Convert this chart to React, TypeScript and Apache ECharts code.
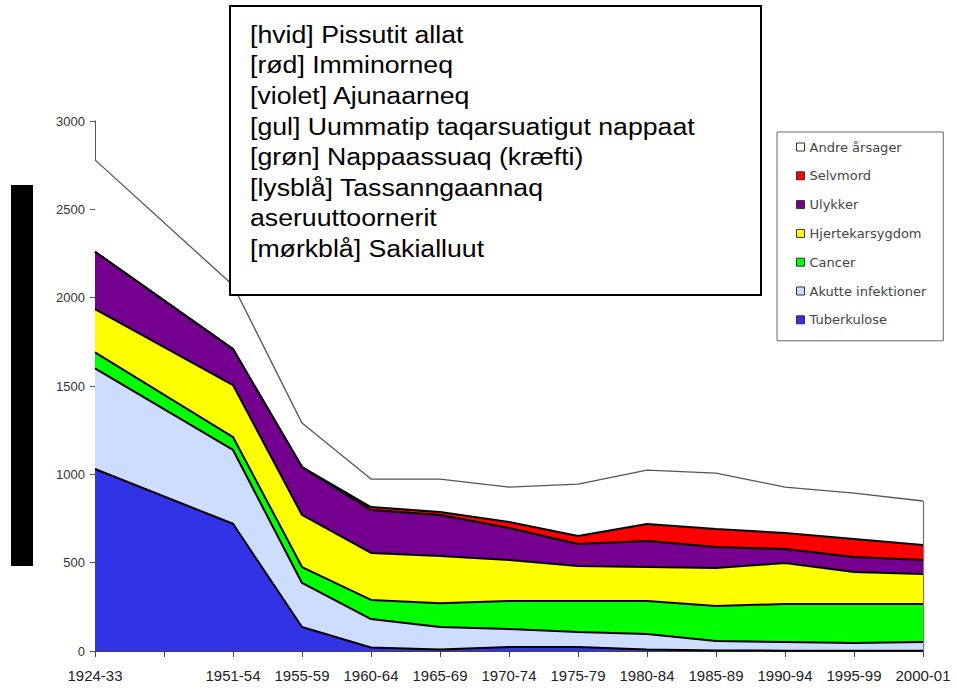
import React, { useEffect, useRef } from "react";
import * as echarts from "echarts";

// ---- data ----
const slotLabels = [
  "1924-33", "", "1951-54", "1955-59", "1960-64", "1965-69", "1970-74",
  "1975-79", "1980-84", "1985-89", "1990-94", "1995-99", "2000-01",
];
const periods = slotLabels.filter((l) => l !== "");

const tuberkulose = [1030, 720, 136, 20, 8, 22, 22, 8, 3, 2, 1, 1];
const akutteInfektioner = [570, 418, 249, 161, 128, 103, 86, 88, 54, 49, 44, 50];
const cancer = [90, 73, 90, 108, 134, 158, 175, 187, 198, 215, 221, 215];
const hjertekarsygdom = [245, 294, 295, 266, 268, 232, 198, 192, 215, 232, 181, 170];
const ulykker = [325, 204, 271, 243, 232, 181, 125, 148, 119, 79, 85, 79];
const selvmord = [0, 0, 0, 17, 17, 34, 45, 96, 101, 91, 102, 85];
const andreAarsager = [520, 361, 249, 158, 186, 198, 294, 305, 317, 260, 260, 249];

const yTicks = [0, 500, 1000, 1500, 2000, 2500, 3000];

const annotationLines = [
  "[hvid] Pissutit allat",
  "[rød] Imminorneq",
  "[violet] Ajunaarneq",
  "[gul] Uummatip taqarsuatigut nappaat",
  "[grøn] Nappaassuaq (kræfti)",
  "[lysblå] Tassanngaannaq",
  "aseruuttoornerit",
  "[mørkblå] Sakialluut",
];

const seriesDefs = [
  { name: "Tuberkulose", values: tuberkulose, color: "#3333E6" },
  { name: "Akutte infektioner", values: akutteInfektioner, color: "#CCDDFF" },
  { name: "Cancer", values: cancer, color: "#00FF00" },
  { name: "Hjertekarsygdom", values: hjertekarsygdom, color: "#FFFF00" },
  { name: "Ulykker", values: ulykker, color: "#750090" },
  { name: "Selvmord", values: selvmord, color: "#FF0000" },
  { name: "Andre årsager", values: andreAarsager, color: "#FFFFFF" },
];

export default function App() {
  const ref = useRef<HTMLDivElement>(null);

  useEffect(() => {
    if (!ref.current) return;
    const chart = echarts.init(ref.current, null, { renderer: "svg" });
    const lastSlot = slotLabels.length - 1;
    const lastTotal = seriesDefs.reduce((s, d) => s + d.values[d.values.length - 1], 0);

    const series: any[] = seriesDefs.map((d, i) => {
      const isTop = i === seriesDefs.length - 1;
      const s: any = {
        name: d.name,
        type: "line",
        stack: "total",
        symbol: "none",
        connectNulls: true,
        z: 10 - i,
        data: slotLabels.map((l) => (l === "" ? null : d.values[periods.indexOf(l)])),
        itemStyle: { color: d.color },
        lineStyle: isTop ? { color: "#555", width: 1.3 } : { color: "#000", width: 2 },
        areaStyle: { color: d.color, opacity: 1 },
        emphasis: { disabled: true },
      };
      if (isTop) {
        s.markLine = {
          silent: true,
          symbol: "none",
          label: { show: false },
          lineStyle: { color: "#777", width: 1.3, type: "solid" },
          data: [[{ coord: [lastSlot, 0] }, { coord: [lastSlot, lastTotal] }]],
        };
      }
      return s;
    });

    const graphic: any[] = [
      {
        type: "rect",
        z: 100,
        shape: { x: 11, y: 185, width: 22, height: 381 },
        style: { fill: "#000" },
      },
      {
        type: "rect",
        z: 100,
        shape: { x: 230, y: 6, width: 531, height: 289 },
        style: { fill: "#fff", stroke: "#000", lineWidth: 2 },
      },
      ...annotationLines.map((t, i) => ({
        type: "text",
        z: 101,
        x: 250,
        y: 34.5 + i * 30.6,
        scaleX: 1.16,
        style: {
          text: t,
          font: '23px "Liberation Sans", Arial, sans-serif',
          fill: "#000",
          verticalAlign: "middle",
          align: "left",
        },
      })),
    ];

    chart.setOption({
      animation: false,
      backgroundColor: "#fff",
      grid: { left: 95, right: 34, top: 121, bottom: 40, containLabel: false },
      legend: {
        orient: "vertical",
        left: 777,
        top: 132,
        padding: [8, 17, 14, 19],
        borderColor: "#666",
        borderWidth: 1,
        backgroundColor: "#fff",
        icon: "rect",
        itemWidth: 8,
        itemHeight: 8,
        itemGap: 14.8,
        textStyle: {
          fontFamily: '"DejaVu Sans", sans-serif',
          fontSize: 13,
          lineHeight: 14,
          color: "#444",
        },
        data: seriesDefs
          .slice()
          .reverse()
          .map((d) => ({
            name: d.name,
            itemStyle: { color: d.color, borderColor: "#333", borderWidth: 1 },
          })),
      },
      xAxis: {
        type: "category",
        data: slotLabels,
        boundaryGap: false,
        splitLine: { show: false },
        axisLine: { show: true, lineStyle: { color: "#444", width: 1 } },
        axisTick: { show: true, length: 6, interval: 0, lineStyle: { color: "#444" } },
        axisLabel: {
          interval: 0,
          margin: 17,
          fontFamily: '"Liberation Sans", Arial, sans-serif',
          fontSize: 15,
          color: "#222",
        },
      },
      yAxis: {
        type: "value",
        min: yTicks[0],
        max: yTicks[yTicks.length - 1],
        interval: yTicks[1] - yTicks[0],
        splitLine: { show: false },
        axisLine: { show: true, lineStyle: { color: "#555", width: 1 } },
        axisTick: { show: true, length: 5, lineStyle: { color: "#555" } },
        axisLabel: {
          margin: 10,
          fontFamily: '"Liberation Sans", Arial, sans-serif',
          fontSize: 13,
          color: "#333",
          formatter: (v: number) => String(v),
        },
      },
      series,
      graphic,
    });

    return () => chart.dispose();
  }, []);

  return (
    <div
      ref={ref}
      style={{ position: "absolute", left: 0, top: 0, width: 957, height: 691 }}
    />
  );
}
